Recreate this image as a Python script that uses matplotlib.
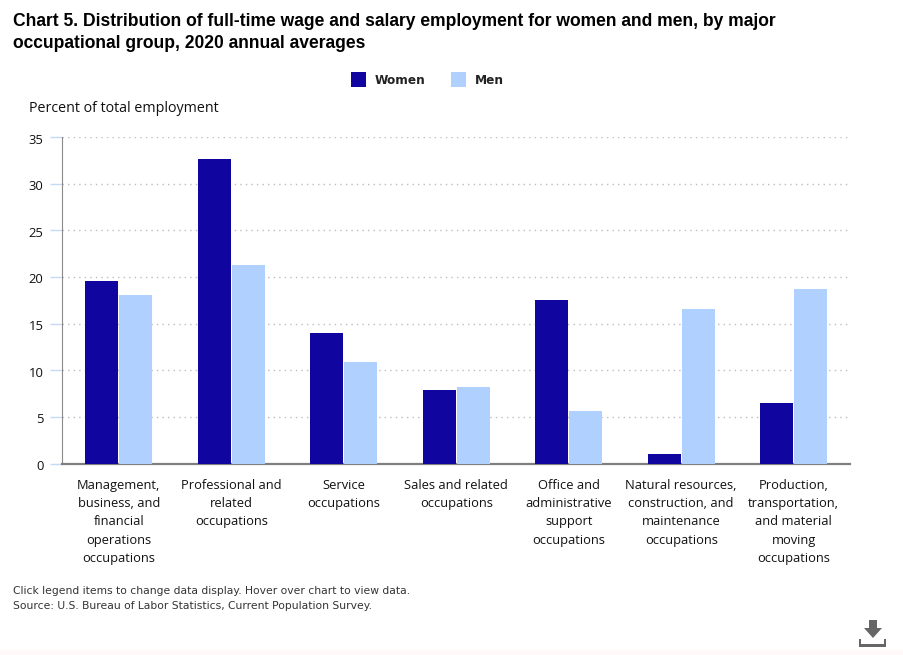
import matplotlib
matplotlib.use("Agg")
import matplotlib.pyplot as plt
from matplotlib.patches import Rectangle, Polygon
from matplotlib.transforms import ScaledTranslation
import numpy as np

categories = ["Management,\nbusiness, and\nfinancial\noperations\noccupations",
              "Professional and\nrelated\noccupations",
              "Service\noccupations",
              "Sales and related\noccupations",
              "Office and\nadministrative\nsupport\noccupations",
              "Natural resources,\nconstruction, and\nmaintenance\noccupations",
              "Production,\ntransportation,\nand material\nmoving\noccupations"]
women = [19.6, 32.6, 14.0, 7.9, 17.5, 1.0, 6.5]
men = [18.1, 21.3, 10.9, 8.2, 5.6, 16.6, 18.7]
yticks = [0, 5, 10, 15, 20, 25, 30, 35]
W, H = 904, 655
NAVY, LIGHT = "#10069F", "#B0D0FF"
SANS = "Open Sans"

fig = plt.figure(figsize=(W/100, H/100), dpi=100, facecolor="white")
def fx(x): return x/W
def fy(y): return 1-y/H

# page tint at the bottom edge
fig.add_artist(Rectangle((0, 0), 1, 5/H, transform=fig.transFigure, fc="#FFF9F9", ec="none"))

L, R, T, B = 62.5, 850, 137, 463.5
ax = fig.add_axes([fx(L), fy(B), (R-L)/W, (B-T)/H])
x = np.arange(len(categories))
bw = 0.298
ax.bar(x-bw/2-0.002, women, bw-0.006, color=NAVY, zorder=3)
ax.bar(x+bw/2+0.002, men, bw-0.006, color=LIGHT, zorder=3)
ax.set_xlim(-0.5, 6.5)
ax.set_ylim(0, 35)
ax.set_yticks(yticks)
ax.set_xticks(x)
ax.set_xticklabels(categories, fontsize=9.3, family=SANS, color="#111111", linespacing=1.53)
ax.tick_params(axis="x", length=0, pad=11)
ax.tick_params(axis="y", length=8.6, width=1, color="#C5D9F5", labelsize=9.4, labelcolor="#111111", pad=5)
off = ScaledTranslation(0, -1.5/100, fig.dpi_scale_trans)
for t in ax.get_yticklabels():
    t.set_family(SANS)
    t.set_transform(t.get_transform() + off)
ax.grid(axis="y", color="#BDBDBD", linestyle=(0, (1, 3)), linewidth=1, zorder=0)
ax.set_axisbelow(True)
for s in ("top", "right"):
    ax.spines[s].set_visible(False)
ax.spines["left"].set_color("#8A8A8A")
ax.spines["bottom"].set_color("#7F7F7F")
ax.spines["bottom"].set_linewidth(1.6)

fig.text(fx(13), fy(21.5), "Chart 5. Distribution of full-time wage and salary employment for women and men, by major",
         fontsize=12.65, fontweight="bold", family="Liberation Sans", color="black", va="center")
fig.text(fx(13), fy(43), "occupational group, 2020 annual averages",
         fontsize=12.65, fontweight="bold", family="Liberation Sans", color="black", va="center")
fig.text(fx(29), fy(109), "Percent of total employment", fontsize=10.3, family=SANS, color="#111111", va="center")

# legend
fig.add_artist(Rectangle((fx(351), fy(87)), 15/W, 15/H, transform=fig.transFigure, fc=NAVY, ec="none"))
fig.add_artist(Rectangle((fx(451), fy(87)), 15/W, 15/H, transform=fig.transFigure, fc=LIGHT, ec="none"))
fig.text(fx(374.5), fy(80.5), "Women", fontsize=8.7, fontweight="bold", family="DejaVu Sans", color="#222222", va="center")
fig.text(fx(475), fy(80.5), "Men", fontsize=8.7, fontweight="bold", family="DejaVu Sans", color="#222222", va="center")

# footnotes
fig.text(fx(13), fy(591), "Click legend items to change data display. Hover over chart to view data.",
         fontsize=7.72, family="DejaVu Sans", color="#333333", va="center")
fig.text(fx(13), fy(606), "Source: U.S. Bureau of Labor Statistics, Current Population Survey.",
         fontsize=7.72, family="DejaVu Sans", color="#333333", va="center")

# download icon
G = "#666666"
arrow = [(869, 620), (877, 620), (877, 628), (882, 628), (873, 638), (864, 628), (869, 628)]
fig.add_artist(Polygon([(fx(a), fy(b)) for a, b in arrow], closed=True, transform=fig.transFigure, fc=G, ec="none"))
for (a, b, w, h) in [(859, 644, 27, 3), (859, 639, 2, 5), (884, 639, 2, 5)]:
    fig.add_artist(Rectangle((fx(a), fy(b+h)), w/W, h/H, transform=fig.transFigure, fc=G, ec="none"))

fig.savefig("out.png", dpi=100)
